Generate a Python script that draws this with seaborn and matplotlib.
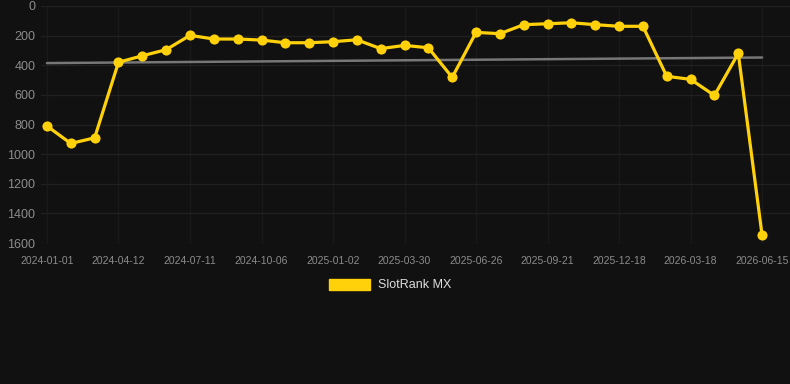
import numpy as np
import pandas as pd
import matplotlib
matplotlib.use("Agg")
import matplotlib.pyplot as plt
import seaborn as sns

# Datas (uma por ponto) e posição no ranking
dates = [
    "2024-01-01", "2024-02-04", "2024-03-09", "2024-04-12", "2024-05-12", "2024-06-11",
    "2024-07-11", "2024-08-08", "2024-09-07", "2024-10-06", "2024-11-04", "2024-12-04",
    "2025-01-02", "2025-01-31", "2025-03-01", "2025-03-30", "2025-04-28", "2025-05-28",
    "2025-06-26", "2025-07-25", "2025-08-23", "2025-09-21", "2025-10-20", "2025-11-19",
    "2025-12-18", "2026-01-16", "2026-02-16", "2026-03-18", "2026-04-17", "2026-05-16",
    "2026-06-15",
]
rank = [
    810, 928, 890, 380, 336, 295, 198, 223, 223, 230, 248, 248, 241, 228, 288, 266,
    282, 482, 178, 187, 126, 120, 113, 126, 137, 137, 475, 495, 604, 320, 1549,
]
series_name = "SlotRank MX"
yticks = [0, 200, 400, 600, 800, 1000, 1200, 1400, 1600]

BG = "#111111"
GOLD = "#FFD10A"
TXT = "#8c8c8c"

df = pd.DataFrame({"date": dates, "rank": rank})
df["pos"] = np.arange(len(df))

# tendência linear
coef = np.polyfit(df["pos"], df["rank"], 1)
df["trend"] = np.polyval(coef, df["pos"])

sns.set_theme(style="dark")
plt.rcParams["font.family"] = ["Liberation Sans", "DejaVu Sans"]

fig = plt.figure(figsize=(7.9, 3.84), dpi=100, facecolor=BG)
ax = fig.add_axes([41 / 790, 1 - 243 / 384, 1 - 41 / 790, (243 - 6) / 384])
ax.set_facecolor(BG)

sns.lineplot(data=df, x="pos", y="trend", ax=ax, color="#777777", linewidth=1.8, zorder=2)
sns.lineplot(data=df, x="pos", y="rank", ax=ax, color=GOLD, linewidth=2.3,
             marker="o", markersize=7.3, markeredgewidth=0, zorder=3)

ax.set_xlim(-0.25, len(df) - 1 + 1.17)
ax.set_ylim(1600, 0)
ax.set_yticks(yticks)
ax.set_yticklabels([str(v) for v in yticks])
tick_pos = df["pos"][::3]
ax.set_xticks(tick_pos)
ax.set_xticklabels(df["date"][::3])

ax.grid(True, axis="y", color="#202020", linewidth=1)
ax.grid(True, axis="x", color="#1a1a1a", linewidth=1)
for s in ax.spines.values():
    s.set_visible(False)
ax.tick_params(axis="y", colors=TXT, labelsize=9, length=0, pad=4)
ax.tick_params(axis="x", colors=TXT, labelsize=7.5, length=0, pad=9)
ax.set_xlabel("")
ax.set_ylabel("")

# legenda manual
handle = plt.Rectangle((0, 0), 1, 1, color=GOLD)
leg = fig.legend([handle], [series_name], loc="center", bbox_to_anchor=(390 / 790, 1 - 285 / 384),
                 frameon=False, handlelength=3.3, handleheight=1.0, handletextpad=0.6,
                 fontsize=9)
for t in leg.get_texts():
    t.set_color("#dddddd")

fig.savefig("out.png", dpi=100, facecolor=BG)
